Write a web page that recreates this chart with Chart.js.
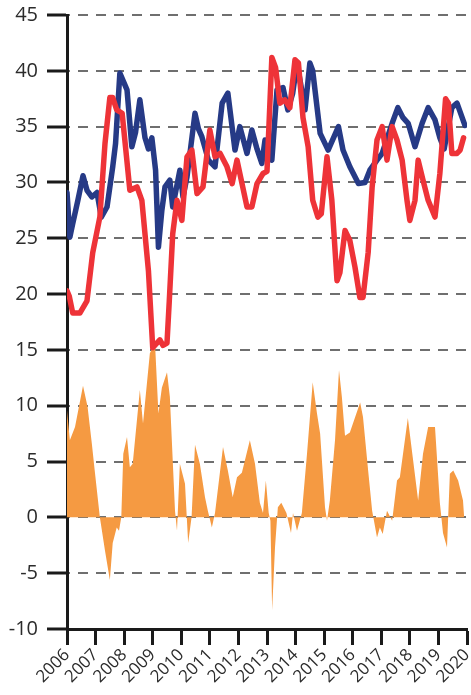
<!DOCTYPE html>
<html lang="en">

<head>
    <meta charset="UTF-8">
    <script src="https://cdn.jsdelivr.net/npm/chart.js"></script>
    <title>Series</title>
    <style>
        body {
            margin: 0;
            background: #ffffff;
        }

        #box {
            width: 471px;
            height: 695px;
        }
    </style>
</head>

<body>
    <div id="box">
        <canvas id="grafico" width="471" height="695"></canvas>
    </div>

    <script>
        // eixo x: anos
        const anos = [2006, 2007, 2008, 2009, 2010, 2011, 2012, 2013, 2014, 2015, 2016, 2017, 2018, 2019, 2020];
        const ticksY = [-10, -5, 0, 5, 10, 15, 20, 25, 30, 35, 40, 45];

        // linha azul
        const azulX = [2006.0, 2006.1, 2006.2, 2006.38, 2006.56, 2006.7, 2006.87, 2007.05, 2007.2, 2007.4,
            2007.6, 2007.7, 2007.85, 2008.0, 2008.1, 2008.27, 2008.4, 2008.55, 2008.73, 2008.85,
            2008.97, 2009.1, 2009.2, 2009.32, 2009.43, 2009.6, 2009.7, 2009.95, 2010.06, 2010.2,
            2010.48, 2010.6, 2010.72, 2010.95, 2011.18, 2011.43, 2011.63, 2011.88, 2012.05, 2012.3,
            2012.47, 2012.65, 2012.82, 2012.93, 2013.17, 2013.35, 2013.56, 2013.73, 2013.9, 2014.05,
            2014.2, 2014.33, 2014.5, 2014.6, 2014.86, 2015.14, 2015.5, 2015.66, 2015.9, 2016.2,
            2016.43, 2016.6, 2016.85, 2017.03, 2017.38, 2017.58, 2017.76, 2017.94, 2018.18, 2018.43,
            2018.64, 2018.88, 2019.05, 2019.2, 2019.47, 2019.65, 2019.93];
        const azulY = [29.1, 25.1, 26.3, 28.4, 30.6, 29.3, 28.7, 29.1, 26.9, 27.8,
            31.4, 33.5, 39.8, 38.9, 38.3, 33.2, 34.5, 37.4, 34.0, 33.0,
            34.0, 31.1, 24.2, 27.5, 29.6, 30.2, 27.8, 31.1, 28.7, 30.5,
            36.2, 34.8, 34.1, 32.0, 31.4, 37.1, 38.0, 32.9, 35.0, 32.6,
            34.7, 33.0, 31.7, 33.8, 32.0, 38.3, 38.5, 36.5, 38.0, 40.7,
            38.5, 36.5, 40.7, 40.0, 34.4, 32.9, 35.0, 32.9, 31.4, 29.9,
            30.0, 31.1, 32.0, 32.6, 35.3, 36.7, 35.8, 35.3, 33.2, 35.3,
            36.7, 35.6, 34.0, 33.0, 36.7, 37.1, 35.1];

        // linha vermelha
        const vermelhoX = [2006.0, 2006.08, 2006.2, 2006.45, 2006.7, 2006.9, 2007.15, 2007.33, 2007.5, 2007.6,
            2007.74, 2007.93, 2008.2, 2008.45, 2008.62, 2008.85, 2009.0, 2009.25, 2009.36, 2009.5,
            2009.58, 2009.7, 2009.85, 2010.02, 2010.2, 2010.37, 2010.55, 2010.76, 2011.0, 2011.18,
            2011.36, 2011.6, 2011.78, 2011.95, 2012.3, 2012.47, 2012.65, 2012.86, 2013.0, 2013.17,
            2013.3, 2013.45, 2013.62, 2013.8, 2013.98, 2014.1, 2014.26, 2014.44, 2014.6, 2014.78,
            2014.9, 2015.1, 2015.27, 2015.45, 2015.55, 2015.73, 2015.9, 2016.08, 2016.25, 2016.36,
            2016.54, 2016.68, 2016.85, 2017.03, 2017.2, 2017.38, 2017.55, 2017.73, 2017.9, 2018.0,
            2018.18, 2018.29, 2018.46, 2018.64, 2018.88, 2019.05, 2019.25, 2019.35, 2019.47, 2019.65,
            2019.76, 2019.88];
        const vermelhoY = [20.3, 19.8, 18.3, 18.3, 19.4, 23.7, 26.9, 33.5, 37.6, 37.6,
            36.5, 36.2, 29.3, 29.6, 28.4, 22.1, 15.2, 15.9, 15.4, 15.6,
            19.4, 25.4, 28.4, 26.6, 32.3, 32.9, 29.0, 29.6, 34.7, 32.3,
            32.6, 31.4, 29.9, 32.0, 27.8, 27.8, 29.9, 30.8, 31.0, 41.2,
            40.3, 37.1, 37.4, 36.7, 41.0, 40.7, 35.8, 33.2, 28.4, 26.9,
            27.2, 32.3, 28.4, 21.2, 21.9, 25.7, 24.8, 22.4, 19.7, 19.7,
            23.7, 29.6, 33.8, 35.0, 32.0, 35.0, 33.8, 32.0, 28.4, 26.6,
            28.4, 32.0, 30.2, 28.4, 26.9, 30.8, 37.5, 37.1, 32.6, 32.6,
            32.9, 34.0];

        // area laranja (diferenca)
        const laranjaX = [2006.0, 2006.1, 2006.28, 2006.56, 2006.72, 2006.87, 2006.97, 2007.15, 2007.33, 2007.5,
            2007.6, 2007.74, 2007.82, 2007.9, 2007.97, 2008.1, 2008.2, 2008.3, 2008.55, 2008.66,
            2008.9, 2009.08, 2009.2, 2009.32, 2009.5, 2009.6, 2009.78, 2009.85, 2009.95, 2010.13,
            2010.24, 2010.36, 2010.48, 2010.65, 2010.83, 2010.93, 2011.07, 2011.18, 2011.46, 2011.63,
            2011.8, 2011.95, 2012.12, 2012.4, 2012.58, 2012.75, 2012.86, 2012.96, 2013.06, 2013.12,
            2013.18, 2013.28, 2013.38, 2013.5, 2013.68, 2013.84, 2013.91, 2014.05, 2014.22, 2014.4,
            2014.6, 2014.75, 2014.86, 2015.03, 2015.1, 2015.2, 2015.38, 2015.52, 2015.62, 2015.73,
            2015.9, 2016.26, 2016.36, 2016.54, 2016.68, 2016.85, 2016.95, 2017.05, 2017.2, 2017.38,
            2017.55, 2017.65, 2017.93, 2018.1, 2018.29, 2018.46, 2018.64, 2018.88, 2019.05, 2019.16,
            2019.3, 2019.4, 2019.52, 2019.69, 2019.86, 2019.9];
        const laranjaY = [9.6, 6.9, 8.1, 11.8, 9.9, 6.6, 4.2, 0, -3.0, -5.6,
            -2.3, -0.9, -1.2, 0, 5.7, 7.2, 4.5, 4.8, 11.4, 8.4,
            14.7, 15.6, 9.3, 11.6, 13.0, 10.8, 0.6, -1.2, 4.8, 3.0,
            -2.3, 0, 6.5, 4.8, 1.8, 0.6, -0.9, 0.4, 6.3, 4.2,
            1.8, 3.6, 4.0, 6.9, 4.8, 1.3, 0.4, 3.3, 0.4, -0.3,
            -8.3, -2.7, 0.9, 1.3, 0.4, -1.4, 0.4, -1.2, 0.4, 5.7,
            12.1, 9.3, 7.5, 0.9, -0.3, 1.5, 6.9, 13.2, 10.8, 7.3,
            7.6, 10.3, 9.0, 4.2, 0.6, -1.8, -0.9, -1.5, 0.6, -0.3,
            3.3, 3.6, 8.9, 5.4, 1.5, 5.7, 8.1, 8.1, 1.3, -1.4,
            -2.7, 3.9, 4.2, 3.3, 1.5, 0];

        function pontos(xs, ys) {
            return xs.map((x, i) => ({ x: x, y: ys[i] }));
        }

        const fonte = 'Open Sans';

        const ctx = document.getElementById('grafico').getContext('2d');

        new Chart(ctx, {
            type: 'line',
            data: {
                datasets: [
                    {
                        data: pontos(vermelhoX, vermelhoY),
                        borderColor: '#ee3338',
                        borderWidth: 5.5,
                        pointRadius: 0,
                        tension: 0,
                        fill: false,
                        borderJoinStyle: 'round',
                        borderCapStyle: 'round'
                    },
                    {
                        data: pontos(azulX, azulY),
                        borderColor: '#263a86',
                        borderWidth: 5.5,
                        pointRadius: 0,
                        tension: 0,
                        fill: false,
                        borderJoinStyle: 'round',
                        borderCapStyle: 'round'
                    },
                    {
                        data: pontos(laranjaX, laranjaY),
                        borderWidth: 0,
                        borderColor: 'rgba(0,0,0,0)',
                        backgroundColor: '#f59a42',
                        pointRadius: 0,
                        tension: 0,
                        fill: 'origin'
                    }
                ]
            },
            options: {
                responsive: false,
                animation: false,
                devicePixelRatio: 1,
                layout: {
                    padding: { top: 15, right: 4, left: 0, bottom: 0 }
                },
                plugins: {
                    legend: { display: false },
                    tooltip: { enabled: false }
                },
                scales: {
                    x: {
                        type: 'linear',
                        min: anos[0],
                        max: anos[anos.length - 1],
                        afterBuildTicks: (scale) => {
                            scale.ticks = anos.map(v => ({ value: v }));
                        },
                        afterFit: (scale) => {
                            scale.height = 66;
                            scale.paddingRight = 0;
                            scale.paddingLeft = 0;
                        },
                        grid: {
                            drawOnChartArea: false,
                            drawTicks: true,
                            tickLength: 16,
                            tickColor: '#1a1a1a',
                            tickWidth: 3
                        },
                        border: {
                            display: true,
                            color: '#1a1a1a',
                            width: 3
                        },
                        ticks: {
                            maxRotation: 45,
                            minRotation: 45,
                            autoSkip: false,
                            padding: 0,
                            color: '#2b2b2b',
                            font: { family: fonte, size: 17 },
                            callback: (v) => String(v)
                        }
                    },
                    y: {
                        min: ticksY[0],
                        max: ticksY[ticksY.length - 1],
                        afterBuildTicks: (scale) => {
                            scale.ticks = ticksY.map(v => ({ value: v }));
                        },
                        afterFit: (scale) => {
                            scale.width = 67;
                            scale.paddingTop = 0;
                            scale.paddingBottom = 0;
                        },
                        grid: {
                            color: '#6f6f6f',
                            lineWidth: 2,
                            drawTicks: true,
                            tickLength: 20,
                            tickColor: '#1a1a1a',
                            tickWidth: 3,
                            tickBorderDash: []
                        },
                        border: {
                            display: true,
                            color: '#1a1a1a',
                            width: 3,
                            dash: [10, 8],
                            dashOffset: -9
                        },
                        ticks: {
                            padding: 9,
                            color: '#2b2b2b',
                            font: { family: fonte, size: 20 },
                            callback: (v) => String(v)
                        }
                    }
                }
            }
        });
    </script>
</body>

</html>
